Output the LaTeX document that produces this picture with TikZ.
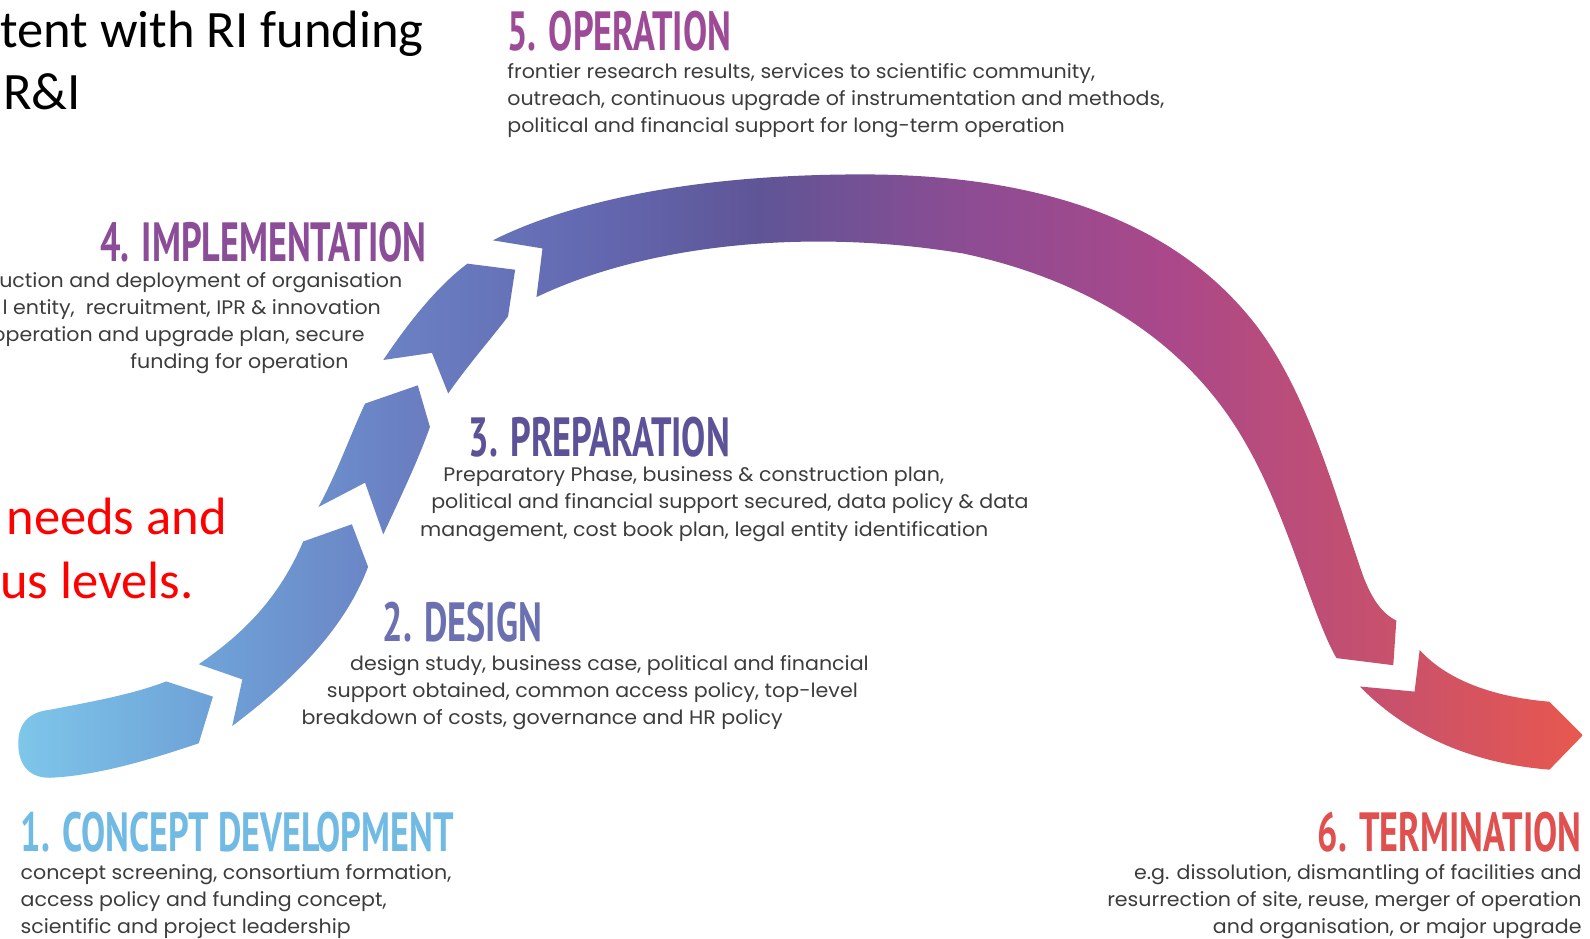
\documentclass[tikz,border=0pt]{standalone}
\usepackage{fontspec}
\usepackage{tikz}
\setmainfont{Poppins}[FakeStretch=1.05]
\newfontfamily\phasefont[FakeStretch=0.655]{PT Sans Bold}
\newfontfamily\slidefont{Carlito}

\definecolor{rib0}{HTML}{7EC6EA}
\definecolor{rib1}{HTML}{6FA3D8}
\definecolor{rib2}{HTML}{6A7FC2}
\definecolor{rib3}{HTML}{6366AE}
\definecolor{rib4}{HTML}{5F5596}
\definecolor{rib5}{HTML}{8C4C93}
\definecolor{rib6}{HTML}{AA488A}
\definecolor{rib7}{HTML}{C5506F}
\definecolor{rib8}{HTML}{E8584E}
\definecolor{conceptcol}{HTML}{70BAE3}
\definecolor{designcol}{HTML}{6B70B0}
\definecolor{prepcol}{HTML}{5B5298}
\definecolor{implcol}{HTML}{8B4C98}
\definecolor{opcol}{HTML}{9D4B97}
\definecolor{termcol}{HTML}{E0504F}
\definecolor{txtgray}{HTML}{3C3C3C}

\pgfdeclarehorizontalshading{ribbonshade}{100bp}{color(0bp)=(rib0); color(25bp)=(rib0);
  color(30.9bp)=(rib1); color(37.4bp)=(rib2); color(43.9bp)=(rib3); color(48.7bp)=(rib4);
  color(55.2bp)=(rib5); color(61.7bp)=(rib6); color(68.2bp)=(rib7); color(75bp)=(rib8);
  color(100bp)=(rib8)}

\newcommand\indentby[1]{\hbox to #1{}}

\tikzset{
  phase/.style={inner sep=0, font=\phasefont\fontsize{31}{31}\selectfont},
  desc/.style={inner sep=0, text=txtgray, font=\fontsize{11}{15.3}\selectfont},
  slide/.style={inner sep=0, font=\slidefont\fontsize{29.5}{34}\selectfont}
}

\begin{document}
\begin{tikzpicture}[x=0.02cm,y=-0.02cm]
    \useasboundingbox (0,0) rectangle (1568,926);

    % the ribbon, six pieces
    \shade[shading=ribbonshade]
      (49,700) .. controls (90,692) and (130,685) .. (164,672) -- (210,687) -- (196,733)
        .. controls (160,745) and (100,765) .. (49,767) .. controls (25,767) and (18,750) .. (18,733)
        .. controls (18,712) and (30,702) .. (49,700) -- cycle
      (196,655) -- (239,670) -- (229,716) .. controls (290,670) and (340,620) .. (363,559)
        -- (347,517) -- (299,534) .. controls (275,590) and (240,625) .. (196,655) -- cycle
      (314,500) -- (360,476) -- (378,527) .. controls (395,490) and (412,455) .. (424,421)
        -- (412,380) -- (360,398) .. controls (345,430) and (333,465) .. (314,500) -- cycle
      (378,355) -- (426,348) -- (442,388) .. controls (463,358) and (486,332) .. (501,312)
        -- (508,266) -- (461,260) .. controls (430,283) and (400,322) .. (378,355) -- cycle
      (486,237) .. controls (560,200) and (680,172) .. (850,172)
        .. controls (1020,172) and (1150,215) .. (1230,310)
        .. controls (1290,380) and (1320,500) .. (1345,570)
        .. controls (1355,595) and (1365,606) .. (1377,612)
        -- (1374,656) -- (1318,649)
        .. controls (1295,610) and (1270,510) .. (1230,440)
        .. controls (1180,350) and (1090,280) .. (950,250)
        .. controls (800,225) and (640,240) .. (529,293) -- (535,245) -- cycle
      (1400,641) -- (1395,682) -- (1341,677) .. controls (1380,717) and (1440,752) .. (1528,759)
        -- (1561,725) -- (1528,692) .. controls (1480,688) and (1430,674) .. (1400,641) -- cycle;

    % slide text behind
    \node[slide, anchor=base west] (funding) at (0,47) {tent with RI funding};
    \node[slide, anchor=base west] (ri) at (3,108) {R\&I};
    \node[slide, anchor=base west, text=red] (needs) at (6,527) {needs and};
    \node[slide, anchor=base west, text=red] (levels) at (0,590) {us levels.};

    % phases
    \node[phase, anchor=base west, text=conceptcol] (concept) at (20,840) {1. CONCEPT DEVELOPMENT};
    \node[desc, anchor=north west, align=left] (conceptdesc) at (20,852)
      {concept screening, consortium formation,\\access policy and funding concept,\\scientific and project leadership};

    \node[phase, anchor=base west, text=designcol] (design) at (377,633) {2. DESIGN};
    \node[desc, anchor=north west, align=left] (designdesc) at (297,646)
      {\indentby{0.96cm}design study, business case, political and financial\\\indentby{0.5cm}support obtained, common access policy, top-level\\breakdown of costs, governance and HR policy};

    \node[phase, anchor=base west, text=prepcol] (prep) at (462,450) {3. PREPARATION};
    \node[desc, anchor=north west, align=left] (prepdesc) at (414,460)
      {\indentby{0.46cm}Preparatory Phase, business \& construction plan,\\\indentby{0.22cm}political and financial support secured, data policy \& data\\management, cost book plan, legal entity identification};

    \node[phase, anchor=base east, text=implcol] (impl) at (421,258) {4. IMPLEMENTATION};
    \node[desc, anchor=north east, align=right] (impldesc) at (397,268)
      {ruction and deployment of organisation\\l entity,\ \ recruitment, IPR \& innovation\indentby{0.42cm}\\operation and upgrade plan, secure\indentby{0.74cm}\\funding for operation\indentby{1.06cm}};

    \node[phase, anchor=base west, text=opcol] (op) at (500,50) {5. OPERATION};
    \node[desc, anchor=north west, align=left] (opdesc) at (500,62)
      {frontier research results, services to scientific community,\\outreach, continuous upgrade of instrumentation and methods,\\political and financial support for long-term operation};

    \node[phase, anchor=base east, text=termcol] (term) at (1560,840) {6. TERMINATION};
    \node[desc, anchor=north east, align=right] (termdesc) at (1560,852)
      {e.g. dissolution, dismantling of facilities and\\resurrection of site, reuse, merger of operation\\and organisation, or major upgrade};
\end{tikzpicture}
\end{document}
